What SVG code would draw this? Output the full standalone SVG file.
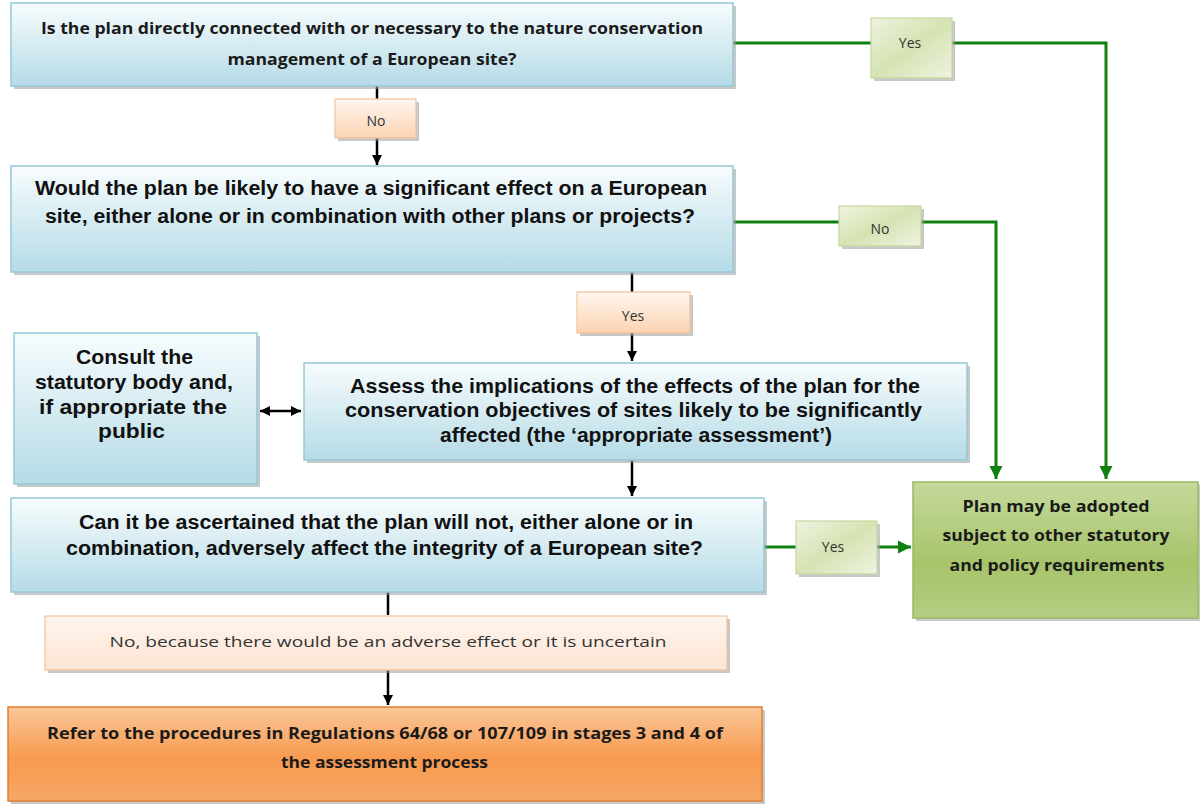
<svg xmlns="http://www.w3.org/2000/svg" width="1200" height="804" viewBox="0 0 1200 804">
<defs>
<linearGradient id="gBlue" x1="0" y1="0" x2="0" y2="1"><stop offset="0" stop-color="#f7fcfd"/><stop offset="0.55" stop-color="#d3eaf1"/><stop offset="1" stop-color="#b5dbe6"/></linearGradient>
<linearGradient id="gPeach" x1="0" y1="0" x2="0" y2="1"><stop offset="0" stop-color="#fff6ef"/><stop offset="1" stop-color="#fbd3b2"/></linearGradient>
<linearGradient id="gPeach2" x1="0" y1="0" x2="0" y2="1"><stop offset="0" stop-color="#fef5ee"/><stop offset="1" stop-color="#fce4d2"/></linearGradient>
<linearGradient id="gLGreen" x1="0" y1="0" x2="1" y2="1"><stop offset="0" stop-color="#eef3e0"/><stop offset="0.5" stop-color="#d5e3b3"/><stop offset="1" stop-color="#eef3e0"/></linearGradient>
<linearGradient id="gGreen" x1="0" y1="0" x2="0" y2="1"><stop offset="0" stop-color="#c5d99b"/><stop offset="0.6" stop-color="#a7c46a"/><stop offset="1" stop-color="#b4cd82"/></linearGradient>
<linearGradient id="gOrange" x1="0" y1="0" x2="0" y2="1"><stop offset="0" stop-color="#fbc79a"/><stop offset="0.55" stop-color="#f79a4e"/><stop offset="1" stop-color="#f7a766"/></linearGradient>
<marker id="aBlack" viewBox="0 0 10 10" refX="10" refY="5" markerWidth="4" markerHeight="4" orient="auto-start-reverse" markerUnits="strokeWidth"><path d="M0,0 L10,5 L0,10 z" fill="#000"/></marker>
<marker id="aGreen" viewBox="0 0 10 10" refX="10" refY="5" markerWidth="4.5" markerHeight="4.5" orient="auto" markerUnits="strokeWidth"><path d="M0,0 L10,5 L0,10 z" fill="#108010"/></marker>
</defs>
<style>
.sh{fill:#9a9a9a;opacity:0.55}
.blue{fill:url(#gBlue);stroke:#94c9d8;stroke-width:1.5}
.peach{fill:url(#gPeach);stroke:#f2c29a;stroke-width:1.2}
.peach2{fill:url(#gPeach2);stroke:#f2c29a;stroke-width:1.2}
.lg{fill:url(#gLGreen);stroke:#c6d79f;stroke-width:1.2}
.gr{fill:url(#gGreen);stroke:#9cb85f;stroke-width:1.5}
.or{fill:url(#gOrange);stroke:#e07f30;stroke-width:1.5}
.t{font-family:"Liberation Sans",Arial,sans-serif;font-weight:bold;fill:#111;text-anchor:middle}
.c{font-family:"Open Sans","Liberation Sans",sans-serif;font-weight:bold;fill:#1a1a1a;text-anchor:middle}
.lbl{font-family:"Open Sans","Liberation Sans",sans-serif;fill:#333;text-anchor:middle;font-size:14px}
.bk{stroke:#000;stroke-width:2.5;fill:none}
.gn{stroke:#108010;stroke-width:3;fill:none}
</style>

<g id="connectors">
<line class="bk" x1="377" y1="86" x2="377" y2="99"/>
<line class="bk" x1="377" y1="138" x2="377" y2="165" marker-end="url(#aBlack)"/>
<line class="bk" x1="632" y1="272" x2="632" y2="292"/>
<line class="bk" x1="632" y1="333" x2="632" y2="361" marker-end="url(#aBlack)"/>
<line class="bk" x1="260" y1="411" x2="301" y2="411" marker-start="url(#aBlack)" marker-end="url(#aBlack)"/>
<line class="bk" x1="632" y1="460" x2="632" y2="496" marker-end="url(#aBlack)"/>
<line class="bk" x1="388" y1="592" x2="388" y2="615"/>
<line class="bk" x1="388" y1="670" x2="388" y2="705" marker-end="url(#aBlack)"/>
<polyline class="gn" points="733,43 871,43"/>
<polyline class="gn" points="952,43 1106,43 1106,479" marker-end="url(#aGreen)"/>
<polyline class="gn" points="733,222 839,222"/>
<polyline class="gn" points="921,222 996,222 996,479" marker-end="url(#aGreen)"/>
<polyline class="gn" points="764,547 796,547"/>
<polyline class="gn" points="877,547 911,547" marker-end="url(#aGreen)"/>
</g>

<g id="q1">
<rect class="sh" x="14" y="6" width="722" height="83"/>
<rect class="blue" x="11" y="3" width="722" height="83"/>
<text class="c" font-size="15.5" x="372" y="34" textLength="662" lengthAdjust="spacingAndGlyphs">Is the plan directly connected with or necessary to the nature conservation</text>
<text class="c" font-size="15.5" x="372" y="65" textLength="289" lengthAdjust="spacingAndGlyphs">management of a European site?</text>
</g>

<g id="lbl-no1">
<rect class="sh" x="338" y="102" width="81" height="39"/>
<rect class="peach" x="335" y="99" width="81" height="39"/>
<text class="lbl" x="376" y="126">No</text>
</g>

<g id="lbl-yes1">
<rect class="sh" x="874" y="21" width="81" height="60"/>
<rect class="lg" x="871" y="18" width="81" height="60"/>
<text class="lbl" x="910" y="48">Yes</text>
</g>

<g id="q2">
<rect class="sh" x="14" y="169" width="722" height="106"/>
<rect class="blue" x="11" y="166" width="722" height="106"/>
<text class="t" font-size="20" x="371" y="195" textLength="672" lengthAdjust="spacingAndGlyphs">Would the plan be likely to have a significant effect on a European</text>
<text class="t" font-size="20" x="370" y="223" textLength="650" lengthAdjust="spacingAndGlyphs">site, either alone or in combination with other plans or projects?</text>
</g>

<g id="lbl-no2">
<rect class="sh" x="842" y="209" width="82" height="40"/>
<rect class="lg" x="839" y="206" width="82" height="40"/>
<text class="lbl" x="880" y="234">No</text>
</g>

<g id="lbl-yes2">
<rect class="sh" x="580" y="295" width="113" height="41"/>
<rect class="peach" x="577" y="292" width="113" height="41"/>
<text class="lbl" x="633" y="321" font-size="13">Yes</text>
</g>

<g id="consult">
<rect class="sh" x="17" y="336" width="243" height="151"/>
<rect class="blue" x="14" y="333" width="243" height="151"/>
<text class="t" font-size="21" x="134.5" y="364" textLength="117" lengthAdjust="spacingAndGlyphs">Consult the</text>
<text class="t" font-size="21" x="134" y="389" textLength="198" lengthAdjust="spacingAndGlyphs">statutory body and,</text>
<text class="t" font-size="21" x="133" y="414" textLength="188" lengthAdjust="spacingAndGlyphs">if appropriate the</text>
<text class="t" font-size="21" x="131.5" y="438" textLength="67" lengthAdjust="spacingAndGlyphs">public</text>
</g>

<g id="assess">
<rect class="sh" x="307" y="366" width="663" height="97"/>
<rect class="blue" x="304" y="363" width="663" height="97"/>
<text class="t" font-size="21" x="635" y="393" textLength="570" lengthAdjust="spacingAndGlyphs">Assess the implications of the effects of the plan for the</text>
<text class="t" font-size="21" x="633.5" y="417" textLength="577" lengthAdjust="spacingAndGlyphs">conservation objectives of sites likely to be significantly</text>
<text class="t" font-size="21" x="636" y="442" textLength="392" lengthAdjust="spacingAndGlyphs">affected (the ‘appropriate assessment’)</text>
</g>

<g id="q3">
<rect class="sh" x="14" y="501" width="753" height="94"/>
<rect class="blue" x="11" y="498" width="753" height="94"/>
<text class="t" font-size="20" x="386" y="529" textLength="614" lengthAdjust="spacingAndGlyphs">Can it be ascertained that the plan will not, either alone or in</text>
<text class="t" font-size="20" x="384.5" y="555" textLength="637" lengthAdjust="spacingAndGlyphs">combination, adversely affect the integrity of a European site?</text>
</g>

<g id="lbl-yes3">
<rect class="sh" x="799" y="524" width="81" height="53"/>
<rect class="lg" x="796" y="521" width="81" height="53"/>
<text class="lbl" x="833" y="552">Yes</text>
</g>

<g id="adopt">
<rect class="sh" x="916" y="485" width="285" height="136"/>
<rect class="gr" x="913" y="482" width="285" height="136"/>
<text class="c" font-size="16" x="1056" y="512" textLength="187" lengthAdjust="spacingAndGlyphs">Plan may be adopted</text>
<text class="c" font-size="16" x="1056" y="541" textLength="227" lengthAdjust="spacingAndGlyphs">subject to other statutory</text>
<text class="c" font-size="16" x="1057" y="571" textLength="215" lengthAdjust="spacingAndGlyphs">and policy requirements</text>
</g>

<g id="lbl-no3">
<rect class="sh" x="48" y="619" width="682" height="54"/>
<rect class="peach2" x="45" y="616" width="682" height="54"/>
<text class="lbl" font-size="15" x="388" y="647" textLength="557" lengthAdjust="spacingAndGlyphs">No, because there would be an adverse effect or it is uncertain</text>
</g>

<g id="refer">
<rect class="sh" x="11" y="710" width="754" height="94"/>
<rect class="or" x="8" y="707" width="754" height="94"/>
<text class="c" font-size="16.5" x="385" y="739" textLength="676" lengthAdjust="spacingAndGlyphs">Refer to the procedures in Regulations 64/68 or 107/109 in stages 3 and 4 of</text>
<text class="c" font-size="16.5" x="384.5" y="768" textLength="207" lengthAdjust="spacingAndGlyphs">the assessment process</text>
</g>
</svg>
